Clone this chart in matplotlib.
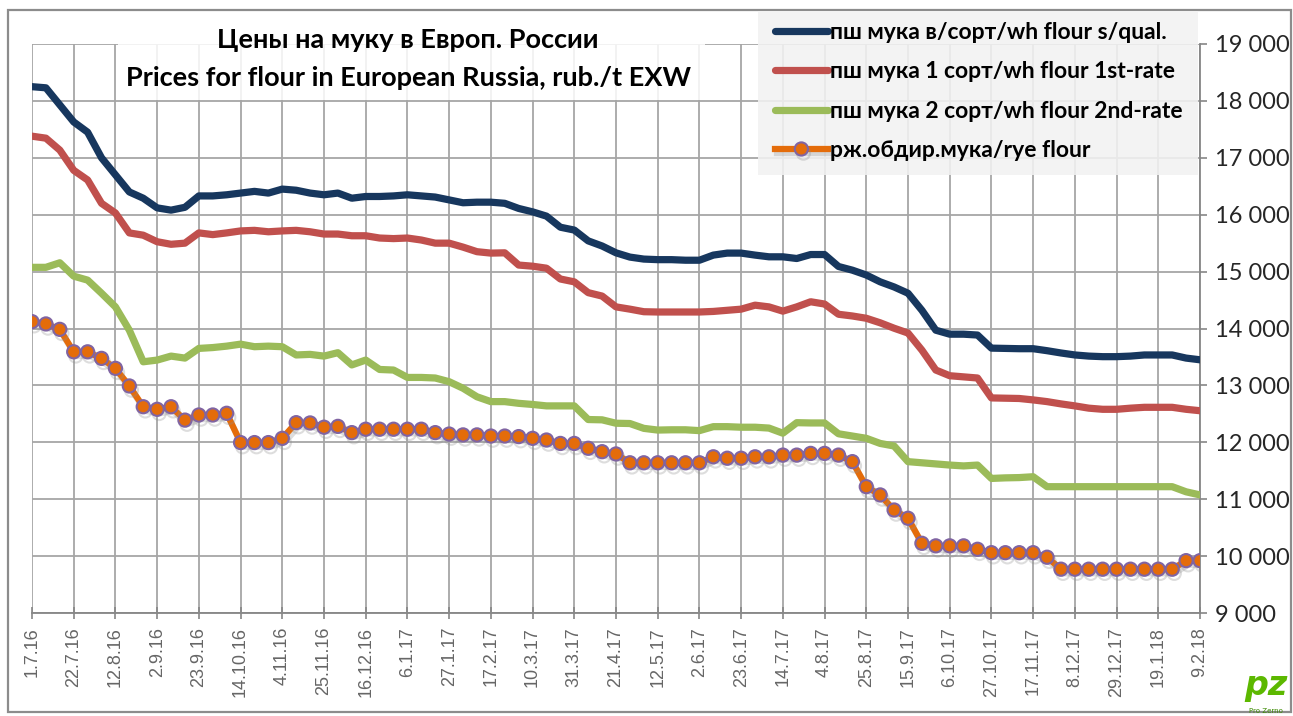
import numpy as np
import matplotlib
matplotlib.use('Agg')
import matplotlib.pyplot as plt
import matplotlib.patheffects as pe
from matplotlib.patches import Rectangle

## data (rub./t, weekly from 1.7.16 to 9.2.18)
weeks = np.arange(85)

flour_top = [18250, 18230, 17930, 17630, 17450, 17000, 16700, 16400, 16290, 16120,
             16080, 16130, 16330, 16330, 16350, 16380, 16410, 16380, 16450, 16430,
             16380, 16350, 16380, 16290, 16320, 16320, 16330, 16350, 16330, 16310,
             16260, 16210, 16220, 16220, 16200, 16110, 16050, 15975, 15780, 15730,
             15540, 15450, 15330, 15255, 15220, 15210, 15210, 15200, 15200, 15290,
             15325, 15325, 15290, 15260, 15260, 15230, 15300, 15300, 15090, 15025,
             14940, 14820, 14730, 14620, 14320, 13970, 13900, 13900, 13885, 13655,
             13650, 13645, 13645, 13610, 13570, 13535, 13515, 13505, 13505, 13515,
             13535, 13535, 13535, 13480, 13450]

flour_1st = [17380, 17345, 17135, 16780, 16610, 16200, 16030, 15680, 15640, 15525,
             15480, 15500, 15680, 15650, 15680, 15715, 15725, 15700, 15715, 15725,
             15700, 15660, 15660, 15630, 15630, 15590, 15580, 15590, 15555, 15500,
             15500, 15430, 15350, 15325, 15330, 15115, 15095, 15060, 14870, 14820,
             14630, 14570, 14380, 14340, 14295, 14290, 14290, 14290, 14290, 14300,
             14320, 14340, 14410, 14380, 14305, 14380, 14470, 14430, 14250, 14220,
             14180, 14100, 14005, 13920, 13620, 13270, 13170, 13150, 13130, 12780,
             12775, 12770, 12745, 12715, 12675, 12640, 12600, 12580, 12580, 12600,
             12615, 12615, 12615, 12580, 12555]

flour_2nd = [15075, 15075, 15155, 14920, 14850, 14620, 14380, 13970, 13415, 13445,
             13515, 13480, 13650, 13665, 13690, 13725, 13680, 13690, 13680, 13535,
             13545, 13515, 13575, 13360, 13445, 13280, 13270, 13140, 13140, 13130,
             13065, 12950, 12800, 12715, 12715, 12685, 12665, 12640, 12640, 12640,
             12400, 12395, 12335, 12330, 12245, 12215, 12220, 12220, 12205, 12275,
             12275, 12265, 12265, 12250, 12160, 12345, 12340, 12340, 12150, 12110,
             12070, 11980, 11935, 11660, 11640, 11620, 11600, 11585, 11600, 11365,
             11375, 11380, 11395, 11220, 11220, 11220, 11220, 11220, 11220, 11220,
             11220, 11220, 11220, 11130, 11075]

rye = [14120, 14080, 13985, 13590, 13590, 13475, 13300, 12990, 12625, 12580,
       12625, 12390, 12480, 12480, 12510, 11995, 11995, 11995, 12070, 12345,
       12340, 12265, 12280, 12170, 12230, 12230, 12230, 12230, 12230, 12170,
       12145, 12130, 12130, 12110, 12110, 12100, 12070, 12040, 11980, 11980,
       11895, 11835, 11795, 11640, 11640, 11640, 11640, 11640, 11640, 11745,
       11720, 11720, 11745, 11745, 11775, 11775, 11805, 11805, 11775, 11660,
       11220, 11075, 10810, 10665, 10225, 10180, 10180, 10180, 10120, 10060,
       10060, 10060, 10060, 9980, 9770, 9770, 9770, 9770, 9770, 9770,
       9770, 9770, 9770, 9920, 9920]

date_labels = ['1.7.16', '22.7.16', '12.8.16', '2.9.16', '23.9.16', '14.10.16',
               '4.11.16', '25.11.16', '16.12.16', '6.1.17', '27.1.17', '17.2.17',
               '10.3.17', '31.3.17', '21.4.17', '12.5.17', '2.6.17', '23.6.17',
               '14.7.17', '4.8.17', '25.8.17', '15.9.17', '6.10.17', '27.10.17',
               '17.11.17', '8.12.17', '29.12.17', '19.1.18', '9.2.18']

names = ['пш мука в/сорт/wh flour s/qual.',
         'пш мука 1 сорт/wh flour 1st-rate',
         'пш мука 2 сорт/wh flour 2nd-rate',
         'рж.обдир.мука/rye flour']

W, H = 1293, 716
calib = ['Lato', 'DejaVu Sans']

fig = plt.figure(figsize=(W / 100, H / 100), dpi=100)
ax = fig.add_axes([32 / W, 103 / H, 1168 / W, 569 / H])

ax.plot(weeks, flour_top, color='#17375e', lw=5.2, solid_joinstyle='round',
        solid_capstyle='round', label=names[0], zorder=3)
ax.plot(weeks, flour_1st, color='#c0504d', lw=5.2, solid_joinstyle='round',
        solid_capstyle='round', label=names[1], zorder=3)
ax.plot(weeks, flour_2nd, color='#9bbb59', lw=5.2, solid_joinstyle='round',
        solid_capstyle='round', label=names[2], zorder=3)
ax.plot(weeks, rye, color='#e46c0a', lw=4.5, marker='o', ms=9.5,
        mfc='#e46c0a', mec='#8064a2', mew=1.5, solid_joinstyle='round',
        label=names[3], zorder=4,
        path_effects=[pe.SimpleLineShadow(offset=(1.5, -3), shadow_color='#909090', alpha=0.3),
                      pe.Normal()])

ax.set_xlim(0, 84)
ax.set_ylim(9000, 19000)
ax.set_xticks(np.arange(0, 85, 3))
ax.set_xticklabels(date_labels, rotation=90, family=['Liberation Sans', 'DejaVu Sans'],
                   fontsize=13, color='#666666')
yt = np.arange(9000, 19001, 1000)
ax.set_yticks(yt)
ax.set_yticklabels([f'{v:,.0f}'.replace(',', ' ') for v in yt], family=calib,
                   fontsize=17, color='#262626')
ax.yaxis.tick_right()
ax.tick_params(axis='x', direction='inout', length=8, width=1.2, color='#868686', pad=6)
ax.tick_params(axis='y', direction='out', length=5, width=1.2, color='#868686', pad=6)

ax.grid(True, color='#a6a6a6', lw=1.3)
ax.set_axisbelow(True)
for s in ['left', 'top']:
    ax.spines[s].set_visible(False)
for s in ['right', 'bottom']:
    ax.spines[s].set_color('#868686')
    ax.spines[s].set_linewidth(1.3)

# title box
ax.add_patch(Rectangle((118 / W, 1 - 100 / H), 587 / W, 82 / H, transform=fig.transFigure,
                       facecolor='white', alpha=0.85, edgecolor='none', clip_on=False, zorder=5))
ax.text(408 / W, 1 - 40 / H, 'Цены на муку в Европ. России', transform=fig.transFigure,
        ha='center', va='center', fontsize=19.5, fontweight='bold', family=calib, zorder=6)
ax.text(408 / W, 1 - 78 / H, 'Prices for flour in European Russia, rub./t EXW',
        transform=fig.transFigure, ha='center', va='center', fontsize=19.5,
        fontweight='bold', family=calib, zorder=6)

# legend
ax.add_patch(Rectangle((758 / W, 1 - 175 / H), 440 / W, 163 / H, transform=fig.transFigure,
                       facecolor='#f2f2f2', alpha=0.88, edgecolor='none', clip_on=False, zorder=5))
leg = ax.legend(loc='upper left', bbox_to_anchor=(775 / W, 1 - 22 / H),
                bbox_transform=fig.transFigure, frameon=False, borderpad=0,
                borderaxespad=0, handlelength=2.3, handletextpad=0.1, labelspacing=0.8,
                prop={'family': calib, 'weight': 'bold', 'size': 16.5})
leg.set_zorder(6)

# outer frame and logo
fig.add_artist(Rectangle((8 / W, 4 / H), 1283 / W, 702 / H, transform=fig.transFigure,
                         fill=False, edgecolor='#8c8c8c', lw=1.6))
fig.text(1266 / W, 1 - 686 / H, 'pz', color='#5cb800', fontsize=24, fontweight='bold',
         ha='center', va='center', style='italic')
fig.text(1266 / W, 1 - 711 / H, 'Pro Zerno', color='#3a8a00', fontsize=5,
         ha='center', va='center')

fig.savefig('out.png', dpi=100)
